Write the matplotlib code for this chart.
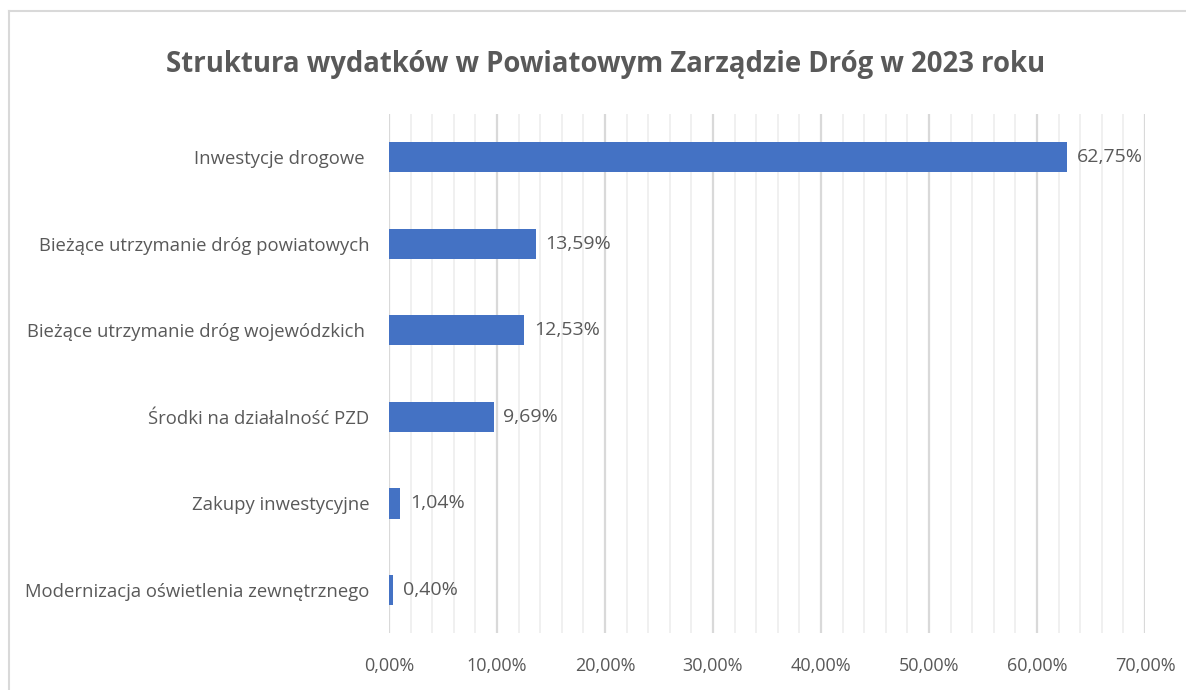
import matplotlib
matplotlib.use("Agg")
import matplotlib.pyplot as plt
from matplotlib.ticker import MultipleLocator, FuncFormatter
from matplotlib.lines import Line2D

categories = [
    "Inwestycje drogowe ",
    "Bieżące utrzymanie dróg powiatowych",
    "Bieżące utrzymanie dróg wojewódzkich ",
    "Środki na działalność PZD",
    "Zakupy inwestycyjne",
    "Modernizacja oświetlenia zewnętrznego",
]
values = [62.75, 13.59, 12.53, 9.69, 1.04, 0.40]
title = "Struktura wydatków w Powiatowym Zarządzie Dróg w 2023 roku"

plt.rcParams['font.family'] = ['Open Sans', 'DejaVu Sans']
TXT = '#595959'

fig = plt.figure(figsize=(11.86, 6.90), dpi=100)
ax = fig.add_axes([0.328, 0.0822, 0.9654 - 0.328, 0.835 - 0.0822])

ys = list(range(len(categories)))
ax.barh(ys, values, height=0.35, color='#4472c4', zorder=3)
ax.set_ylim(len(categories) - 0.5, -0.5)
ax.set_xlim(0, 70)

ax.xaxis.set_major_locator(MultipleLocator(10))
ax.xaxis.set_minor_locator(MultipleLocator(2))
ax.grid(axis='x', which='major', color='#d9d9d9', lw=1.6, zorder=0)
ax.grid(axis='x', which='minor', color='#f0f0f0', lw=1.4, zorder=0)
ax.xaxis.set_major_formatter(FuncFormatter(lambda v, p: f"{v:.2f}%".replace('.', ',')))

ax.set_yticks(ys)
ax.set_yticklabels(categories, fontsize=13.3, color=TXT)
ax.tick_params(axis='x', which='both', length=0, labelsize=13, labelcolor=TXT, pad=17)
ax.tick_params(axis='y', length=0, pad=14)
for s in ax.spines.values():
    s.set_visible(False)

for y, v in zip(ys, values):
    ax.text(v + 0.9, y, f"{v:.2f}%".replace('.', ','), va='center', ha='left',
            fontsize=14, color=TXT)

fig.text(0.511, 0.907, title, ha='center', va='center', fontsize=19.8,
         fontweight='bold', color=TXT)

# outer chart border (top and left visible)
fig.add_artist(Line2D([9 / 1186, 9 / 1186], [0, 1 - 11 / 690], color='#d9d9d9', lw=1.5))
fig.add_artist(Line2D([9 / 1186, 1], [1 - 11 / 690, 1 - 11 / 690], color='#d9d9d9', lw=1.5))

fig.savefig("out.png", dpi=100)
